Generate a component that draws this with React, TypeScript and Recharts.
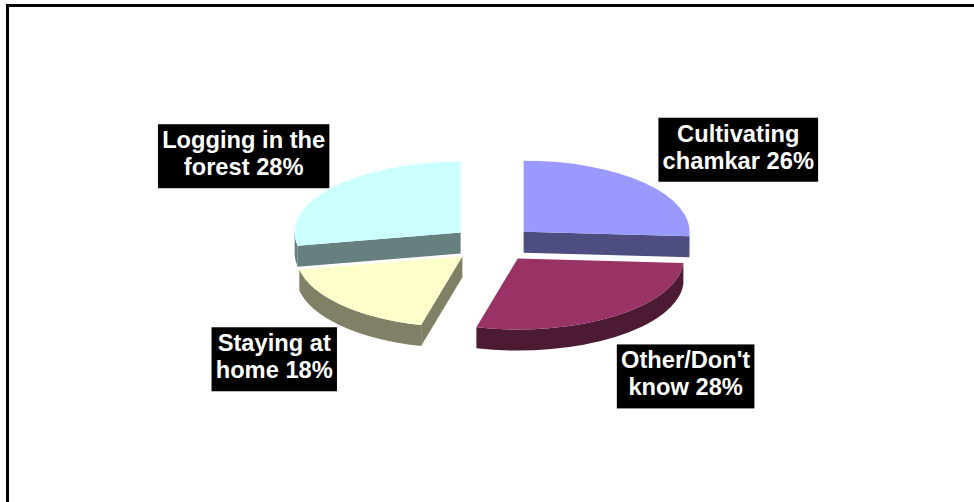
import React from 'react';
import { PieChart, Pie, Cell } from 'recharts';

const categories = ['Cultivating chamkar', "Other/Don't know", 'Staying at home', 'Logging in the forest'];
const shares = [26, 28, 18, 28];
const labelLines = [['Cultivating', 'chamkar'], ["Other/Don't", 'know'], ['Staying at', 'home'], ['Logging in the', 'forest']];
const topColors = ['#9999FF', '#993366', '#FFFFCC', '#CCFFFF'];
const sideColors = ['#4D4D80', '#4D1A33', '#808066', '#668080'];

const data = categories.map((name, i) => ({ name, value: shares[i] }));

const W = 974;
const H = 502;
const CX = 493;
const CY = 244;
const RX = 166;
const TILT = 0.428;
const DEPTH = 21;
const EXPLODE = 42;
const LABEL_R = 247;
const LABEL_DX = 7;
const STRETCH = 1.03;
const FONT_SIZE = 23;
const FONT = `bold ${FONT_SIZE}px "Liberation Sans", Arial, sans-serif`;
const RAD = Math.PI / 180;

let ctx: CanvasRenderingContext2D | null = null;
const measure = (s: string) => {
  if (!ctx) ctx = document.createElement('canvas').getContext('2d');
  if (!ctx) return s.length * FONT_SIZE * 0.6;
  ctx.font = FONT;
  return ctx.measureText(s).width;
};

// elliptical 3d slice, pushed out along its middle angle
const Slice3D = (props: any) => {
  const { cx, cy, outerRadius, startAngle, endAngle, midAngle, index } = props;
  const rx = outerRadius;
  const ry = outerRadius * TILT;
  const ox = cx + EXPLODE * Math.cos(midAngle * RAD);
  const oy = cy - EXPLODE * TILT * Math.sin(midAngle * RAD);
  const pt = (a: number, dz = 0) => `${ox + rx * Math.cos(a * RAD)},${oy - ry * Math.sin(a * RAD) + dz}`;
  const hi = Math.max(startAngle, endAngle);
  const lo = Math.min(startAngle, endAngle);
  const large = hi - lo > 180 ? 1 : 0;
  const side = sideColors[index];

  const parts: React.ReactNode[] = [];
  if (Math.cos(hi * RAD) < -1e-6) {
    parts.push(<path key="r1" fill={side} d={`M${ox},${oy} L${pt(hi)} L${pt(hi, DEPTH)} L${ox},${oy + DEPTH} Z`} />);
  }
  if (Math.cos(lo * RAD) > 1e-6) {
    parts.push(<path key="r2" fill={side} d={`M${ox},${oy} L${pt(lo)} L${pt(lo, DEPTH)} L${ox},${oy + DEPTH} Z`} />);
  }
  const a1 = Math.max(lo, -180);
  const a2 = Math.min(hi, 0);
  if (a2 > a1) {
    parts.push(
      <path
        key="wall"
        fill={side}
        d={`M${pt(a2)} A${rx},${ry} 0 0 1 ${pt(a1)} L${pt(a1, DEPTH)} A${rx},${ry} 0 0 0 ${pt(a2, DEPTH)} Z`}
      />
    );
  }
  parts.push(
    <path key="top" fill={topColors[index]} d={`M${ox},${oy} L${pt(hi)} A${rx},${ry} 0 ${large} 1 ${pt(lo)} Z`} />
  );
  return <g>{parts}</g>;
};

const BoxLabel = (props: any) => {
  const { cx, cy, midAngle, index, percent } = props;
  const lines = [labelLines[index][0], `${labelLines[index][1]} ${Math.round(percent * 100)}%`];
  const textW = Math.max(...lines.map(measure)) + 8;
  const boxH = 64;
  const c = Math.cos(midAngle * RAD);
  const s = Math.sin(midAngle * RAD);
  const ax = cx + LABEL_DX + LABEL_R * c;
  const ay = cy - LABEL_R * TILT * s + (s < 0 ? DEPTH : 0);
  const bx = ax + (c * textW * STRETCH) / 2;
  const by = ay - (s * boxH) / 2;
  return (
    <g transform={`translate(${bx},${by}) scale(${STRETCH},1)`}>
      <rect x={-textW / 2} y={-boxH / 2} width={textW} height={boxH} fill="#000" />
      {lines.map((t, i) => (
        <text
          key={i}
          x={0}
          y={-8 + i * 27}
          textAnchor="middle"
          fill="#fff"
          fontSize={FONT_SIZE}
          fontWeight="bold"
          fontFamily='"Liberation Sans", Arial, sans-serif'
        >
          {t}
        </text>
      ))}
    </g>
  );
};

export default function App() {
  return (
    <div style={{ position: 'absolute', left: 0, top: 0, width: W, height: H }}>
      <svg width={W} height={H} style={{ position: 'absolute', left: 0, top: 0 }}>
        <line x1={7.5} y1={4} x2={7.5} y2={H} stroke="#000" strokeWidth={3} />
        <line x1={6} y1={5.5} x2={W} y2={5.5} stroke="#000" strokeWidth={3} />
      </svg>
      <div style={{ position: 'absolute', left: 0, top: 0 }}>
        <PieChart width={W} height={H} margin={{ top: 0, right: 0, bottom: 0, left: 0 }}>
          <Pie
            data={data}
            dataKey="value"
            nameKey="name"
            cx={CX}
            cy={CY}
            outerRadius={RX}
            startAngle={90}
            endAngle={-270}
            stroke="none"
            isAnimationActive={false}
            shape={Slice3D}
            label={BoxLabel}
            labelLine={false}
          >
            {data.map((d, i) => (
              <Cell key={d.name} fill={topColors[i]} />
            ))}
          </Pie>
        </PieChart>
      </div>
    </div>
  );
}
